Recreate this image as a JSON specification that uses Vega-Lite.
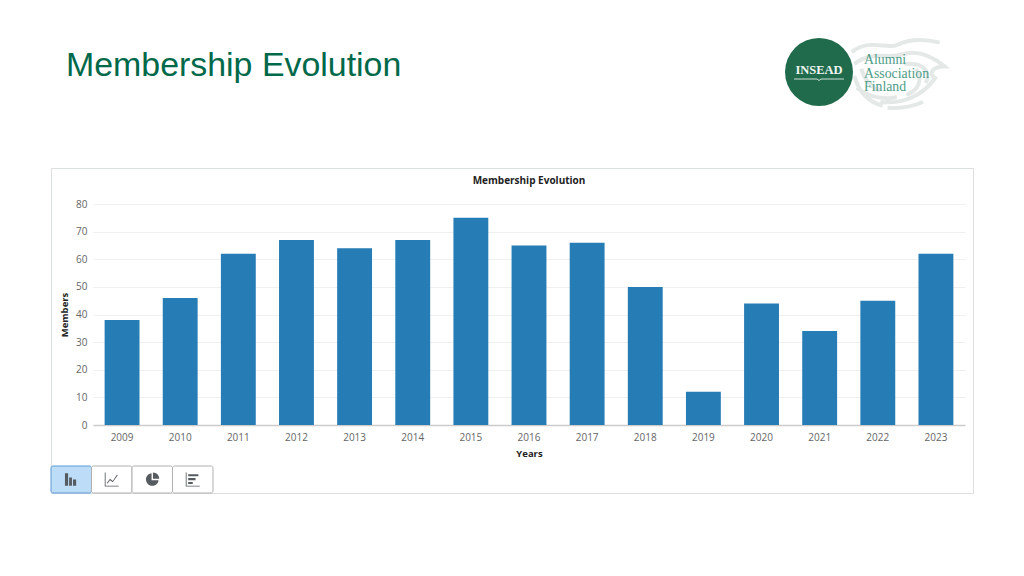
{
"$schema":"https://vega.github.io/schema/vega-lite/v6.json",
"autosize":{"type":"none"},
"padding":{"left":51,"top":168,"right":51,"bottom":83},
"width":922,"height":325,
"background":"#ffffff",
"config":{"view":{"stroke":"#dcdfe0","strokeWidth":1}},
"title":{"text":"Membership Evolution","anchor":"start","frame":"group","dx":15,"offset":-51,"font":"Liberation Sans","fontSize":33.9,"fontWeight":"normal","color":"#00694a"},
"resolve":{"scale":{"x":"independent","y":"independent","shape":"independent","color":"independent"},"axis":{"x":"independent","y":"independent"}},
"layer":[
{"layer":[
{"data":{"values":[{"year":"2009","members":38},{"year":"2010","members":46},{"year":"2011","members":62},{"year":"2012","members":67},{"year":"2013","members":64},{"year":"2014","members":67},{"year":"2015","members":75},{"year":"2016","members":65},{"year":"2017","members":66},{"year":"2018","members":50},{"year":"2019","members":12},{"year":"2020","members":44},{"year":"2021","members":34},{"year":"2022","members":45},{"year":"2023","members":62}]},
"mark":{"type":"bar","color":"#267cb4"},
"encoding":{
"x":{"field":"year","type":"ordinal","scale":{"type":"band","range":[42,914],"paddingInner":0.4,"paddingOuter":0.2},
"axis":{"title":"Years","titleFont":"Open Sans","titleFontSize":9.5,"titleFontWeight":"bold","titleColor":"#222222","titlePadding":6,"labelFont":"Open Sans","labelFontSize":10,"labelColor":"#666666","labelAngle":0,"labelPadding":7,"ticks":false,"domainColor":"#cccccc","domainWidth":1.5,"grid":false,"offset":-68}},
"y":{"field":"members","type":"quantitative","scale":{"domain":[0,80],"nice":false,"range":[257,36]},
"axis":{"title":"Members","titleFont":"Open Sans","titleFontSize":9.5,"titleFontWeight":"bold","titleColor":"#222222","titlePadding":6,"labelFont":"Open Sans","labelFontSize":10,"labelColor":"#666666","labelPadding":6,"ticks":false,"domain":false,"grid":true,"gridColor":"#f0f0f0","values":[0,10,20,30,40,50,60,70,80],"offset":-42}}
}},
{"data":{"values":[{"label":"Membership Evolution"}]},
"mark":{"type":"text","font":"Open Sans","fontSize":10,"fontWeight":"bold","color":"#222222","baseline":"middle"},
"encoding":{"x":{"datum":"2016","type":"ordinal"},"y":{"datum":88.4,"type":"quantitative"},"text":{"field":"label","type":"nominal"}}}
]},
{"data":{"values":[{"tool":"bar","row":"toolbar","selected":"yes"},{"tool":"line","row":"toolbar","selected":"no"},{"tool":"pie","row":"toolbar","selected":"no"},{"tool":"horizontal","row":"toolbar","selected":"no"}]},
"layer":[
{"mark":{"type":"rect","strokeWidth":1,"cornerRadius":2},
"encoding":{
"fill":{"field":"selected","type":"nominal","scale":{"domain":["yes","no"],"range":["#bcdcf7","#ffffff"]},"legend":null},
"stroke":{"field":"selected","type":"nominal","scale":{"domain":["yes","no"],"range":["#5b9bd5","#b0b0b0"]},"legend":null}}},
{"mark":{"type":"point","filled":true,"color":"#565b60","opacity":1,"size":196},
"encoding":{"shape":{"field":"tool","type":"nominal","legend":null,"scale":{"domain":["bar","line","pie","horizontal"],"range":[
"M-.9,-.9H-.45V.9H-.9Z M-.3,-.3H.1V.9H-.3Z M.25,0H.7V.9H.25Z",
"M-1,-1H-.88V.88H1V1H-1Z M-.7,.5L-.25,-.1L.15,.2L.75,-.7L.85,-.6L.15,.4L-.25,.1L-.62,.6Z",
"M-.1,-.9A.9,.9 0 1,0 .9,.1H-.1Z M.1,-1A.9,.9 0 0,1 1,-.1H.1Z",
"M-1,-1H-.88V.88H1V1H-1Z M-.65,-.75H.8V-.45H-.65Z M-.65,-.2H.4V.1H-.65Z M-.65,.35H0V.65H-.65Z"]}}}}
],
"encoding":{
"x":{"field":"tool","type":"nominal","sort":null,"scale":{"type":"band","domain":["bar","line","pie","horizontal"],"range":[0,162],"padding":0},"axis":null},
"y":{"field":"row","type":"nominal","scale":{"type":"band","range":[298,325],"padding":0},"axis":null}
}},
{"data":{"values":[{"part":"swirl","line":"Association","name":"swirl"},{"part":"seal","line":"Association","name":"seal"},{"part":"seal","line":"Association","name":"rule"},{"part":"seal","line":"Association","label":"INSEAD"},{"part":"wordmark","line":"Alumni","label":"Alumni"},{"part":"wordmark","line":"Association","label":"Association"},{"part":"wordmark","line":"Finland","label":"Finland"}]},
"layer":[
{"transform":[{"filter":"datum.name==='swirl'"}],
"mark":{"type":"point","filled":false,"stroke":"#e4e9e8","strokeWidth":4,"opacity":1,"size":9025,"shape":"M-.95,-.45C-.6,-.75 -.2,-.5 0,-.6C.3,-.75 .6,-.72 .9,-.65 M-.9,-.2C-.5,-.5 -.2,-.3 .1,-.4C.4,-.5 .7,-.4 1,-.15C.75,-.15 .65,0 .8,.1C.55,.45 .15,.65 -.35,.6 M-.9,.05C-.8,.4 -.6,.6 -.3,.68 M.4,-.1C.55,.15 .45,.35 .2,.45 M-.85,.3C-.6,.5 -.3,.55 0,.5 M-.75,-.1C-.7,.1 -.55,.3 -.35,.35 M.15,-.2C.65,-.25 .7,.05 .6,.2 M-.2,.72C.05,.75 .3,.7 .55,.6"}},
{"transform":[{"filter":"datum.name==='seal'"}],
"mark":{"type":"point","filled":true,"color":"#1f6b4c","opacity":1,"shape":"circle","size":4624,"yOffset":-1.5}},
{"transform":[{"filter":"datum.name==='rule'"}],
"mark":{"type":"point","filled":false,"stroke":"#cfe0d8","strokeWidth":1,"opacity":1,"size":2500,"shape":"M-1,.22H-.08L0,.28L.08,.22H1"}},
{"transform":[{"filter":"datum.part==='seal' && datum.label"}],
"mark":{"type":"text","font":"Liberation Serif","fontSize":12.5,"fontWeight":"bold","color":"#f2f6f3","baseline":"middle","align":"center","dy":-3.5},
"encoding":{"text":{"field":"label","type":"nominal"}}},
{"transform":[{"filter":"datum.part==='wordmark'"}],
"mark":{"type":"text","font":"Liberation Serif","fontSize":13.8,"color":"#4e9c86","baseline":"middle","align":"left","dx":6},
"encoding":{"text":{"field":"label","type":"nominal"}}}
],
"encoding":{
"x":{"field":"part","type":"nominal","scale":{"type":"point","domain":["seal","wordmark","swirl"],"range":[768,846],"padding":0},"axis":null},
"y":{"field":"line","type":"nominal","scale":{"type":"point","domain":["Alumni","Association","Finland"],"range":[-108,-81],"padding":0},"axis":null}
}}
]
}
